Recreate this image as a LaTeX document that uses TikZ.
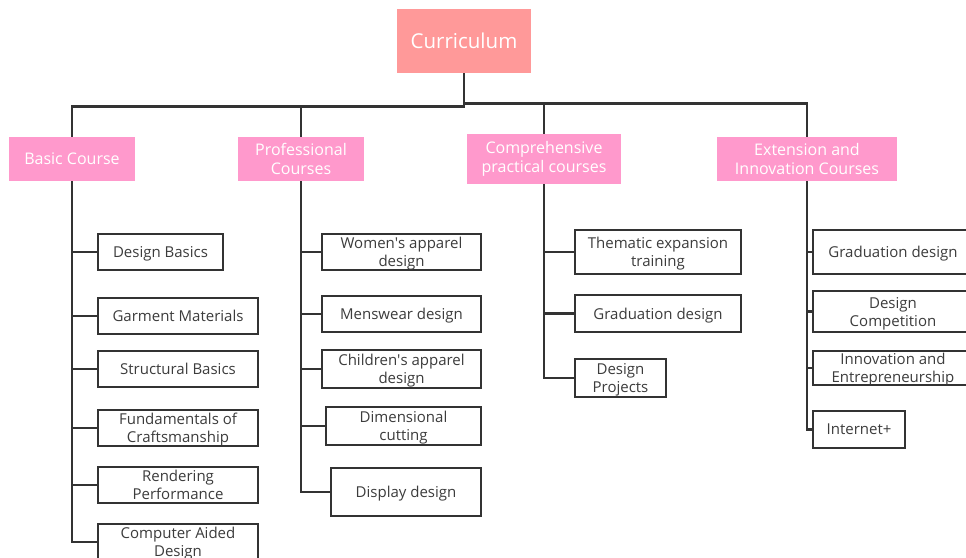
\documentclass[tikz,border=0pt]{standalone}
\usepackage{fontspec}
\setmainfont{Open Sans}
\definecolor{rootpink}{HTML}{FF9999}
\definecolor{grouppink}{HTML}{FF99CC}
\definecolor{linegray}{HTML}{333333}
\definecolor{txtgray}{HTML}{3C3C3C}
\begin{document}
\begin{tikzpicture}[x=1pt,y=-1pt,
        every node/.style={inner sep=0pt,align=center,text=txtgray},
        rootbox/.style={fill=rootpink,minimum width=134pt,minimum height=64pt,text=white,font=\fontsize{20.5}{24}\selectfont},
        groupbox/.style={fill=grouppink,minimum height=44pt,text=white,font=\fontsize{16}{19.5}\selectfont},
        coursebox/.style={draw=linegray,fill=white,line width=2.6pt,minimum width=160pt,text depth=0pt,font=\fontsize{15}{18}\selectfont},
        link/.style={draw=linegray,line width=2.6pt}]
    \useasboundingbox (0,0) rectangle (966,557);
    \clip (0,0) rectangle (966,557);

    \node[rootbox] (root) at (464,41) {Curriculum};

    \node[groupbox,minimum width=126pt] (basic) at (72,159) {Basic Course};
    \node[groupbox,minimum width=126pt] (prof) at (301,159) {Professional\\Courses};
    \node[groupbox,minimum width=154pt,minimum height=50pt] (comp) at (544,159) {Comprehensive\\practical courses};
    \node[groupbox,minimum width=180pt] (ext) at (807,159) {Extension and\\Innovation Courses};

    \node[coursebox,minimum width=125pt,minimum height=36pt] (b1) at (160.5,252) {Design Basics};
    \node[coursebox,minimum height=36pt] (b2) at (178,316) {Garment Materials};
    \node[coursebox,minimum height=36pt] (b3) at (178,369) {Structural Basics};
    \node[coursebox,minimum height=36pt] (b4) at (178,428) {Fundamentals of\\Craftsmanship};
    \node[coursebox,minimum height=36pt] (b5) at (178,485) {Rendering\\Performance};
    \node[coursebox,minimum height=36pt] (b6) at (178,542) {Computer Aided\\Design};

    \node[coursebox,minimum width=159pt,minimum height=36pt] (p1) at (401.5,252) {Women\textquotesingle s apparel\\design};
    \node[coursebox,minimum width=159pt,minimum height=36pt] (p2) at (401.5,314) {Menswear design};
    \node[coursebox,minimum width=159pt,minimum height=38pt] (p3) at (401.5,369) {Children\textquotesingle s apparel\\design};
    \node[coursebox,minimum width=155pt,minimum height=38pt] (p4) at (403.5,426) {Dimensional\\cutting};
    \node[coursebox,minimum width=150pt,minimum height=48pt] (p5) at (406,492) {Display design};

    \node[coursebox,minimum width=166pt,minimum height=44pt] (c1) at (658,252) {Thematic expansion\\training};
    \node[coursebox,minimum width=166pt,minimum height=37pt] (c2) at (658,313.5) {Graduation design};
    \node[coursebox,minimum width=91pt,minimum height=38pt] (c3) at (620.5,378) {Design\\Projects};

    \node[coursebox,minimum height=44pt] (e1) at (893,252) {Graduation design};
    \node[coursebox,minimum height=41pt] (e2) at (893,311.5) {Design\\Competition};
    \node[coursebox,minimum height=34pt] (e3) at (893,368) {Innovation and\\Entrepreneurship};
    \node[coursebox,minimum width=92pt,minimum height=37pt] (e4) at (859,429.5) {Internet+};

    \draw[link] (root.south) -- ++(0,33) -| (basic.north);
    \draw[link] (root.south) -- ++(0,33) -| (prof.north);
    \draw[link] (root.south) -- ++(0,30) -| (comp.north);
    \draw[link] (root.south) -- ++(0,30) -| (ext.north);

    \foreach \c in {b1,b2,b3,b4,b5,b6} \draw[link] (basic.south) |- (\c.west);
    \foreach \c in {p1,p2,p3,p4,p5} \draw[link] (prof.south) |- (\c.west);
    \foreach \c in {c1,c2,c3} \draw[link] (comp.south) |- (\c.west);
    \foreach \c in {e1,e2,e3,e4} \draw[link] (ext.south) |- (\c.west);
\end{tikzpicture}
\end{document}
